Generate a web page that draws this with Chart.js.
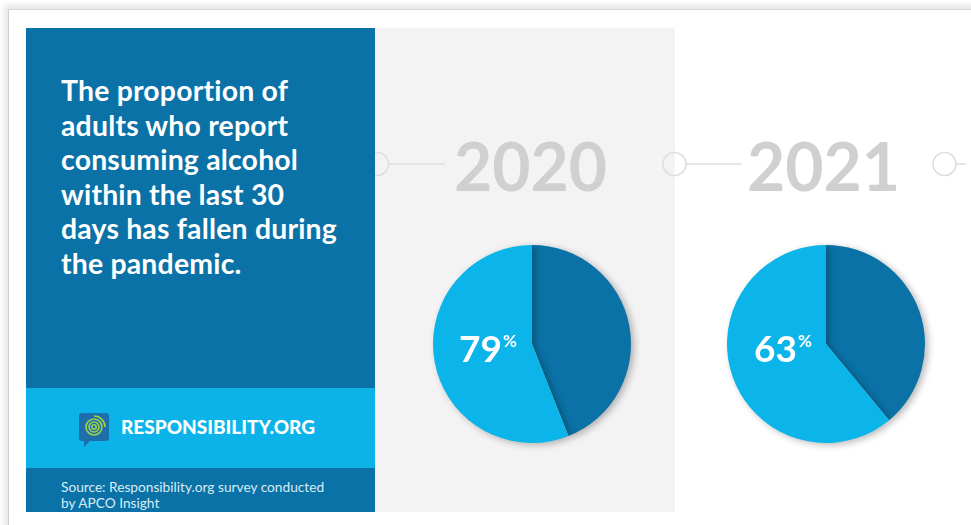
<!DOCTYPE html>
<html>
<head>
<meta charset="utf-8">
<script src="https://cdn.jsdelivr.net/npm/chart.js@4.4.1/dist/chart.umd.min.js"></script>
<style>
  html,body{margin:0;padding:0;background:#fff;}
  body{width:971px;height:525px;position:relative;overflow:hidden;font-family:Lato,"Open Sans",sans-serif;}
  .frame{position:absolute;left:8px;top:9px;width:1000px;height:540px;border-left:1px solid #cfcfcf;border-top:1px solid #d6d6d6;box-shadow:-4px -4px 6px rgba(0,0,0,0.10);background:#fff;}
  .blue{position:absolute;left:26px;top:28px;width:349px;height:484px;background:#0a72a6;}
  .band{position:absolute;left:26px;top:388px;width:349px;height:80px;background:#0bb3e8;}
  .gray{position:absolute;left:375px;top:28px;width:300px;height:484px;background:#f3f3f3;}
  .title{position:absolute;left:61px;top:73px;color:#fff;font-weight:700;font-size:28.4px;line-height:34.6px;letter-spacing:0.2px;}
  .brand{position:absolute;left:121px;top:415px;color:#fff;font-weight:900;font-size:19px;letter-spacing:0px;}
  .source{position:absolute;left:61px;top:479px;color:#d9ecf6;font-size:13.7px;line-height:16px;}
  .year{position:absolute;top:126px;color:#d0d0d0;font-weight:700;font-size:66px;letter-spacing:0px;}
  .pct{position:absolute;color:#fff;font-weight:700;font-size:37px;}
  .pct sup{font-size:17px;vertical-align:top;position:relative;top:5px;margin-left:1px;}
  canvas.pie{position:absolute;}
  svg{position:absolute;left:0;top:0;}
</style>
</head>
<body>
<div class="frame"></div>
<div class="gray"></div>
<svg width="971" height="525" id="tl">
  <g fill="none" stroke="#dedede" stroke-width="1.6">
    <circle cx="377" cy="164" r="11.5"/>
    <line x1="388.5" y1="164" x2="445" y2="164"/>
    <circle cx="674.5" cy="164" r="11.5"/>
    <line x1="686" y1="164" x2="742" y2="164"/>
    <circle cx="944.5" cy="164" r="11.5"/>
    <line x1="956" y1="164" x2="966" y2="164"/>
  </g>
</svg>
<div class="blue"></div>
<div class="band"></div>
<div class="title" id="title"></div>
<svg width="971" height="525" style="pointer-events:none">
  <path d="M82 413 h24 a3 3 0 0 1 3 3 v22 a3 3 0 0 1 -3 3 h-16 l-6 6 l0 -6 h-2 a3 3 0 0 1 -3 -3 v-22 a3 3 0 0 1 3 -3z" fill="#1c6fab"/>
  <g fill="none" stroke="#9fd04a" stroke-width="1.6">
    <circle cx="94" cy="427" r="2.2"/>
    <circle cx="94" cy="427" r="5"/>
    <circle cx="94" cy="427" r="8"/>
    <path d="M94 416 a11 11 0 0 1 11 11"/>
  </g>
</svg>
<div class="brand">RESPONSIBILITY.ORG</div>
<div class="source" id="source"></div>
<div id="years"></div>
<canvas class="pie" id="pie0" width="224" height="224" style="left:420px;top:232px;"></canvas>
<canvas class="pie" id="pie1" width="224" height="224" style="left:714px;top:232px;"></canvas>
<div id="pcts"></div>
<script>
// ---- data ----
const titleLines = ["The proportion of","adults who report","consuming alcohol","within the last 30","days has fallen during","the pandemic."];
const sourceLines = ["Source: Responsibility.org survey conducted","by APCO Insight"];
const years = ["2020","2021"];
const reportedPct = [79, 63];
const darkShare = [44, 39];   // slice sizes as drawn
const lightShare = [56, 61];
const sliceLabels = ["Other","Consumed alcohol"];
const sliceColors = ["#0a72a6","#0bb4e9"];

// ---- layout text ----
document.getElementById('title').innerHTML = titleLines.join('<br>');
document.getElementById('source').innerHTML = sourceLines.join('<br>');
const yearX = [454, 747];
const pctPos = [[459,325],[754,325]];
const yHtml = years.map((y,i)=>`<div class="year" style="left:${yearX[i]}px">${y}</div>`).join('');
document.getElementById('years').innerHTML = yHtml;

const shadowPlugin = {
  id:'shadow',
  beforeDatasetsDraw(chart){
    const c = chart.ctx; c.save();
    c.shadowColor='rgba(0,0,0,0.28)'; c.shadowBlur=7; c.shadowOffsetX=3; c.shadowOffsetY=2;
  },
  afterDatasetsDraw(chart){ chart.ctx.restore(); }
};

years.forEach((y,i)=>{
  new Chart(document.getElementById('pie'+i), {
    type:'pie',
    data:{ labels: sliceLabels, datasets:[{ data:[darkShare[i], lightShare[i]], backgroundColor: sliceColors, borderWidth:0 }]},
    options:{ responsive:false, animation:false, events:[],
      layout:{padding:13},
      plugins:{legend:{display:false}, tooltip:{enabled:false}} },
    plugins:[shadowPlugin]
  });
});
document.getElementById('pcts').innerHTML = reportedPct.map((p,i)=>
  `<div class="pct" style="left:${pctPos[i][0]}px;top:${pctPos[i][1]}px">${p}<sup>%</sup></div>`).join('');
</script>
</body>
</html>
